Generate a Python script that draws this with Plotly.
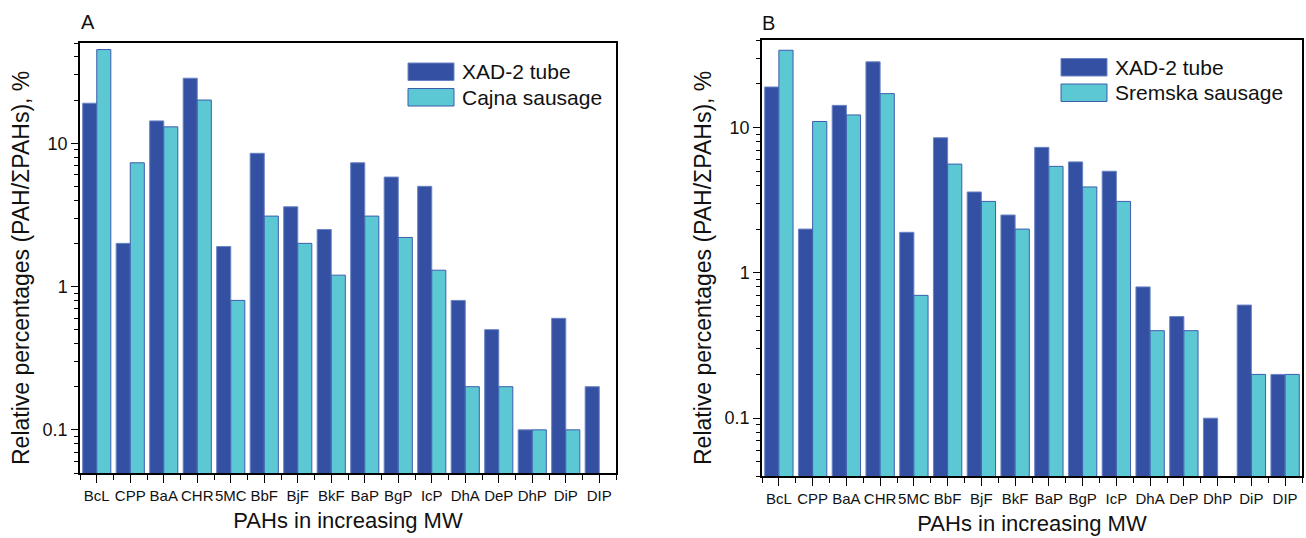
import plotly.graph_objects as go
import math

categories = ["BcL", "CPP", "BaA", "CHR", "5MC", "BbF", "BjF", "BkF",
              "BaP", "BgP", "IcP", "DhA", "DeP", "DhP", "DiP", "DIP"]

# Panel A
xad_a = [19, 2.0, 14.3, 28.4, 1.9, 8.5, 3.6, 2.5, 7.3, 5.8, 5.0, 0.8, 0.5, 0.1, 0.6, 0.2]
cajna = [45, 7.3, 13, 20, 0.8, 3.1, 2.0, 1.2, 3.1, 2.2, 1.3, 0.2, 0.2, 0.1, 0.1, None]

# Panel B
xad_b = [19, 2.0, 14.2, 28.3, 1.9, 8.5, 3.6, 2.5, 7.3, 5.8, 5.0, 0.8, 0.5, 0.1, 0.6, 0.2]
sremska = [34, 11, 12.2, 17.1, 0.7, 5.6, 3.1, 2.0, 5.4, 3.9, 3.1, 0.4, 0.4, None, 0.2, 0.2]

W, H = 1306, 538
FONT = "Liberation Sans, Arial, sans-serif"
DARK = "#3450A3"
DARK_LINE = "#6A83C4"
CYAN = "#5CC8D4"
CYAN_LINE = "#3D5DAE"
YTITLE = "Relative percentages (PAH/ΣPAHs), %"

xpos = list(range(len(categories)))

fig = go.Figure()
fig.add_trace(go.Bar(x=xpos, y=xad_a, name="XAD-2 tube", marker=dict(color=DARK, line=dict(color=DARK_LINE, width=1)),
                     xaxis="x", yaxis="y", showlegend=False))
fig.add_trace(go.Bar(x=xpos, y=cajna, name="Cajna sausage", marker=dict(color=CYAN, line=dict(color=CYAN_LINE, width=1)),
                     xaxis="x", yaxis="y", showlegend=False))
fig.add_trace(go.Bar(x=xpos, y=xad_b, name="XAD-2 tube", marker=dict(color=DARK, line=dict(color=DARK_LINE, width=1)),
                     xaxis="x2", yaxis="y2", showlegend=False))
fig.add_trace(go.Bar(x=xpos, y=sremska, name="Sremska sausage", marker=dict(color=CYAN, line=dict(color=CYAN_LINE, width=1)),
                     xaxis="x2", yaxis="y2", showlegend=False))


def px_x(p):
    return p / W


def px_y(p):
    return 1 - p / H


minor_log = [m * 10 ** e for e in (-2, -1, 0, 1) for m in range(2, 10)]

xcommon = dict(
    tickmode="array", tickvals=xpos, ticktext=categories, range=[-0.5, len(categories) - 0.5],
    tickangle=0,
    showline=True, linecolor="black", linewidth=1.5, mirror=True,
    ticks="outside", ticklen=8, tickwidth=1.2, tickcolor="black",
    minor=dict(ticks="outside", ticklen=5, tickwidth=1.2, tickcolor="black",
               tickmode="array", tickvals=[i - 0.5 for i in xpos] + [len(xpos) - 0.5], showgrid=False),
    showgrid=False, zeroline=False,
    tickfont=dict(family=FONT, size=15, color="#111"),
    title=dict(text="PAHs in increasing MW", font=dict(family=FONT, size=22, color="#111"), standoff=10),
)
ycommon = dict(
    type="log", tickmode="array", tickvals=[0.1, 1, 10], ticktext=["0.1", "1", "10"],
    showline=True, linecolor="black", linewidth=1.5, mirror=True,
    ticks="outside", ticklen=7, tickwidth=1.2, tickcolor="black",
    minor=dict(ticks="outside", ticklen=4, tickwidth=1.2, tickcolor="black",
               tickmode="array", tickvals=minor_log, showgrid=False),
    showgrid=False, zeroline=False,
    tickfont=dict(family=FONT, size=18, color="#111"),
)

fig.update_layout(
    width=W, height=H,
    margin=dict(l=0, r=0, t=0, b=0),
    paper_bgcolor="white", plot_bgcolor="white",
    barmode="group", bargap=0.16, bargroupgap=0,
    font=dict(family=FONT, color="#111"),
    xaxis=dict(domain=[px_x(80), px_x(616)], anchor="y", **xcommon),
    yaxis=dict(domain=[px_y(473), px_y(43)], anchor="x",
               range=[math.log10(0.05), math.log10(50)], **ycommon),
    xaxis2=dict(domain=[px_x(762), px_x(1302)], anchor="y2", **xcommon),
    yaxis2=dict(domain=[px_y(476), px_y(40)], anchor="x2",
                range=[math.log10(0.04), math.log10(40)], **ycommon),
)

# Legends (drawn as swatches + text, matching the reference's large swatches)
legend_specs = [
    (408, 454, 63, 80.5, 460, "XAD-2 tube", DARK, DARK_LINE),
    (408, 454, 88.5, 106, 460, "Cajna sausage", CYAN, CYAN_LINE),
    (1061, 1107, 58.5, 76, 1113, "XAD-2 tube", DARK, DARK_LINE),
    (1061, 1107, 84, 101.5, 1113, "Sremska sausage", CYAN, CYAN_LINE),
]
shapes = []
annotations = []
for x0, x1, y0, y1, tx, label, fill, line in legend_specs:
    shapes.append(dict(type="rect", xref="paper", yref="paper",
                       x0=px_x(x0), x1=px_x(x1), y0=px_y(y1), y1=px_y(y0),
                       fillcolor=fill, line=dict(color=line, width=1)))
    annotations.append(dict(xref="paper", yref="paper", x=px_x(tx), y=px_y((y0 + y1) / 2),
                            text=label, showarrow=False, xanchor="left", yanchor="middle",
                            font=dict(family=FONT, size=21, color="#111")))

annotations.append(dict(xref="paper", yref="paper", x=px_x(79), y=px_y(22), text="A", showarrow=False,
                        xanchor="left", yanchor="middle", font=dict(family=FONT, size=20, color="#111")))
annotations.append(dict(xref="paper", yref="paper", x=px_x(760), y=px_y(23), text="B", showarrow=False,
                        xanchor="left", yanchor="middle", font=dict(family=FONT, size=20, color="#111")))

# y-axis titles
for cx in (21, 703):
    annotations.append(dict(xref="paper", yref="paper", x=px_x(cx), y=px_y(268), text=YTITLE, textangle=-90,
                            showarrow=False, xanchor="center", yanchor="middle",
                            font=dict(family=FONT, size=23, color="#111")))

fig.update_layout(shapes=shapes, annotations=annotations)

fig.write_html("out.html",
               config={"displayModeBar": False},
               post_script="document.body.style.margin='0';document.body.style.padding='0';"
                           "document.body.style.overflow='hidden';")
